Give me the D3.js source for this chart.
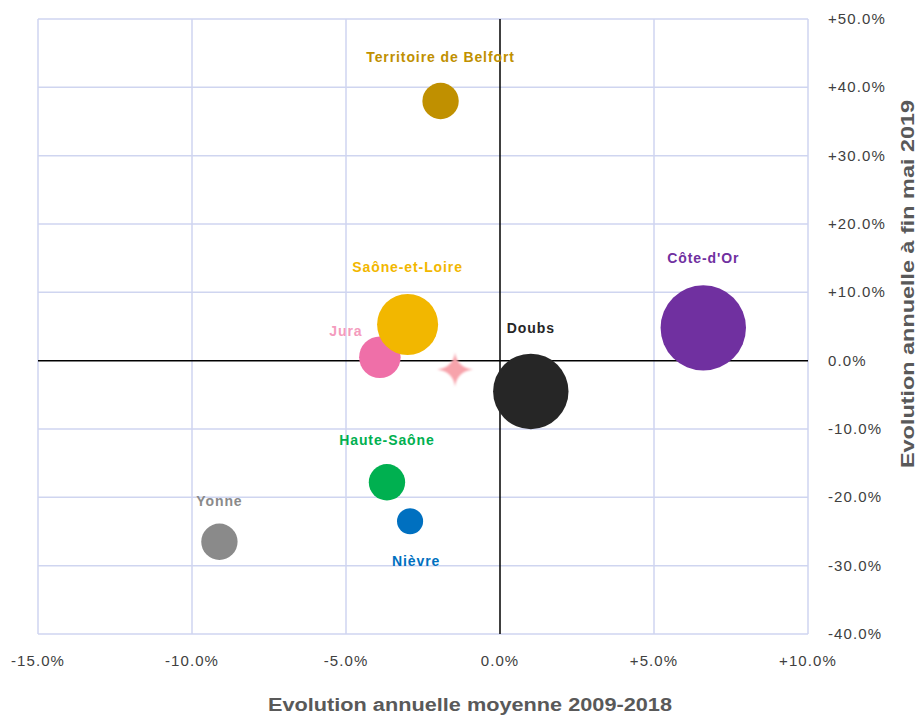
<!DOCTYPE html>
<html>
<head>
<meta charset="utf-8">
<script src="https://cdn.jsdelivr.net/npm/d3@7"></script>
<style>
  html, body { margin: 0; padding: 0; background: #ffffff; }
  svg { display: block; font-family: "Liberation Sans", Arial, sans-serif; }
</style>
</head>
<body>
<svg id="chart" width="920" height="715"></svg>
<script>
// Départements de Bourgogne-Franche-Comté
const departements = ["Territoire de Belfort", "Saône-et-Loire", "Jura", "Doubs", "Côte-d'Or", "Haute-Saône", "Nièvre", "Yonne"];
// Evolution annuelle moyenne 2009-2018 (%)
const evolMoyenne = [-1.93, -3.0, -3.9, 1.0, 6.6, -3.67, -2.92, -9.11];
// Evolution annuelle à fin mai 2019 (%)
const evolMai2019 = [38.0, 5.3, 0.5, -4.5, 4.8, -17.8, -23.5, -26.5];
// Poids de chaque département (taille des bulles)
const poids = [330, 930, 430, 1420, 1820, 330, 170, 330];
const couleurs = ["#c09000", "#f2b700", "#ef6fa8", "#262626", "#7030a0", "#00b050", "#0070c0", "#8a8a8a"];
const couleursEtiquettes = ["#c09000", "#f2b700", "#f49bbd", "#262626", "#7030a0", "#00b050", "#0070c0", "#8a8a8a"];
// Position de l'étiquette par rapport à la bulle (dx, dy en px)
const decalEtiquettes = [[0, -39], [0, -52], [-34, -21], [0, -58], [0, -65], [0, -37], [6, 45], [0, -36]];
// Moyenne régionale
const regionX = [-1.46];
const regionY = [-1.3];

const xTicks = [-15, -10, -5, 0, 5, 10];
const yTicks = [50, 40, 30, 20, 10, 0, -10, -20, -30, -40];

const svg = d3.select("#chart");
const plot = { left: 38, right: 808, top: 19, bottom: 634 };

const x = d3.scaleLinear().domain([-15, 10]).range([plot.left, plot.right]);
const y = d3.scaleLinear().domain([-40, 50]).range([plot.bottom, plot.top]);
const r = d3.scaleSqrt().domain([0, 1820]).range([0, 42.7]);

const fmt = v => (v > 0 ? "+" : "") + v.toFixed(1) + "%";

// Quadrillage
const grid = svg.append("g");
grid.selectAll("line.gx").data(xTicks.filter(t => t !== 0)).join("line")
  .attr("x1", d => x(d)).attr("x2", d => x(d))
  .attr("y1", plot.top).attr("y2", plot.bottom)
  .attr("stroke", "#cfd5f0").attr("stroke-width", 1.5);
grid.selectAll("line.gy").data(yTicks.filter(t => t !== 0)).join("line")
  .attr("x1", plot.left).attr("x2", plot.right)
  .attr("y1", d => y(d)).attr("y2", d => y(d))
  .attr("stroke", "#cfd5f0").attr("stroke-width", 1.5);

// Axes à zéro
svg.append("line").attr("x1", x(0)).attr("x2", x(0)).attr("y1", plot.top).attr("y2", plot.bottom)
  .attr("stroke", "#000").attr("stroke-width", 1.5);
svg.append("line").attr("x1", plot.left).attr("x2", plot.right).attr("y1", y(0)).attr("y2", y(0))
  .attr("stroke", "#000").attr("stroke-width", 1.5);

// Graduations de l'axe horizontal
svg.append("g").selectAll("text").data(xTicks).join("text")
  .attr("x", d => x(d)).attr("y", 666)
  .attr("text-anchor", "middle")
  .attr("font-size", 15).attr("letter-spacing", 1.1)
  .attr("fill", "#404040")
  .text(d => fmt(d));

// Graduations de l'axe vertical
svg.append("g").selectAll("text").data(yTicks).join("text")
  .attr("x", 828).attr("y", d => y(d) + 5)
  .attr("font-size", 15).attr("letter-spacing", 1.1)
  .attr("fill", "#404040")
  .text(d => fmt(d));

// Titres des axes
svg.append("text")
  .attr("x", 470).attr("y", 711)
  .attr("text-anchor", "middle")
  .attr("font-size", 18).attr("font-weight", "bold")
  .attr("fill", "#595959")
  .attr("textLength", 404).attr("lengthAdjust", "spacingAndGlyphs")
  .text("Evolution annuelle moyenne 2009-2018");

svg.append("text")
  .attr("transform", "translate(914,284) rotate(-90)")
  .attr("text-anchor", "middle")
  .attr("font-size", 18).attr("font-weight", "bold")
  .attr("fill", "#595959")
  .attr("textLength", 368).attr("lengthAdjust", "spacingAndGlyphs")
  .text("Evolution annuelle à fin mai 2019");

// Moyenne régionale : étoile floue
const defs = svg.append("defs");
defs.append("filter").attr("id", "flou")
  .attr("x", "-50%").attr("y", "-50%").attr("width", "200%").attr("height", "200%")
  .append("feGaussianBlur").attr("stdDeviation", 1.2);

function etoile(cx, cy, rx, ry, w) {
  const p = d3.path();
  p.moveTo(cx, cy - ry);
  p.quadraticCurveTo(cx + w, cy - w, cx + rx, cy);
  p.quadraticCurveTo(cx + w, cy + w, cx, cy + ry);
  p.quadraticCurveTo(cx - w, cy + w, cx - rx, cy);
  p.quadraticCurveTo(cx - w, cy - w, cx, cy - ry);
  p.closePath();
  return p.toString();
}
svg.append("g").selectAll("path").data(regionX.map((v, i) => [v, regionY[i]])).join("path")
  .attr("d", d => etoile(x(d[0]), y(d[1]), 18, 17, 2))
  .attr("fill", "#f7a3ab")
  .attr("filter", "url(#flou)");

// Bulles
const data = departements.map((nom, i) => ({
  nom, vx: evolMoyenne[i], vy: evolMai2019[i], poids: poids[i],
  couleur: couleurs[i], couleurEtiquette: couleursEtiquettes[i], decal: decalEtiquettes[i]
}));

// Jura dessinée avant Saône-et-Loire, qui la recouvre
const ordreDessin = ["Côte-d'Or", "Doubs", "Jura", "Saône-et-Loire", "Territoire de Belfort", "Haute-Saône", "Yonne", "Nièvre"];
svg.append("g").selectAll("circle")
  .data(ordreDessin.map(n => data.find(d => d.nom === n))).join("circle")
  .attr("cx", d => x(d.vx)).attr("cy", d => y(d.vy))
  .attr("r", d => r(d.poids))
  .attr("fill", d => d.couleur);

// Etiquettes
svg.append("g").selectAll("text").data(data).join("text")
  .attr("x", d => x(d.vx) + d.decal[0])
  .attr("y", d => y(d.vy) + d.decal[1])
  .attr("text-anchor", "middle")
  .attr("font-size", 14).attr("font-weight", "bold")
  .attr("letter-spacing", 0.9)
  .attr("fill", d => d.couleurEtiquette)
  .text(d => d.nom);
</script>
</body>
</html>
